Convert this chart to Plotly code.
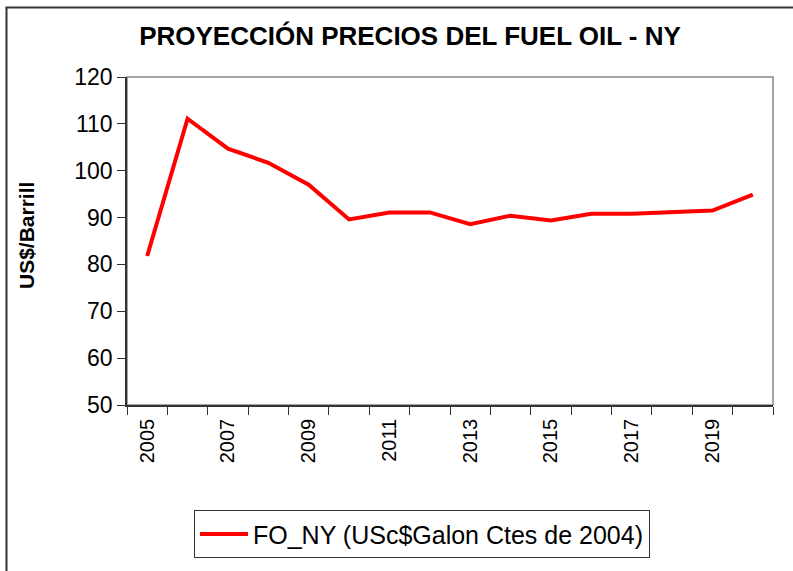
import plotly.graph_objects as go

years = [2005, 2006, 2007, 2008, 2009, 2010, 2011, 2012, 2013, 2014, 2015, 2016, 2017, 2018, 2019, 2020]
fo_ny = [81.8, 111.1, 104.7, 101.7, 97.0, 89.6, 91.1, 91.1, 88.6, 90.4, 89.4, 90.8, 90.8, 91.1, 91.5, 94.9]
label_years = [2005, 2007, 2009, 2011, 2013, 2015, 2017, 2019]
series_name = "FO_NY (USc$Galon Ctes de 2004)"
title_text = "PROYECCIÓN PRECIOS DEL FUEL OIL - NY"
y_title = "US$/Barrill"

W, H = 793, 571
L, R, T, B = 127, 773, 77, 407
pw, ph = R - L, B - T

def px(x):
    return (x - L) / pw

def py(y):
    return (B - y) / ph

fig = go.Figure()
fig.add_trace(go.Scatter(
    x=years, y=fo_ny, mode="lines", name=series_name,
    line=dict(color="#FF0000", width=4),
))

font = "Liberation Sans, Arial, sans-serif"
fig.update_layout(
    width=W, height=H, autosize=False,
    margin=dict(l=L, r=W - R, t=T, b=H - B, pad=0),
    paper_bgcolor="white", plot_bgcolor="white",
    font=dict(family=font, color="black"),
    title=dict(text="<b>" + title_text + "</b>", x=410 / W, xanchor="center",
               y=1 - 36 / H, yanchor="middle", yref="container",
               font=dict(size=26, family=font, color="black")),
    showlegend=True,
    legend=dict(x=px(194), y=py(513), xanchor="left", yanchor="top",
                bordercolor="#333333", borderwidth=1, bgcolor="white",
                itemwidth=48,
                font=dict(size=25, family=font, color="black")),
    xaxis=dict(
        range=[2004.5, 2020.5], tickmode="array", tickvals=label_years,
        ticktext=[str(v) for v in label_years], tickangle=-90,
        ticks="outside", ticklen=4, tickcolor="rgba(0,0,0,0)",
        tickfont=dict(size=20, family=font, color="black"),
        showgrid=False, zeroline=False, showline=True, linecolor="#333333", linewidth=1.5,
        minor=dict(tick0=2004.5, dtick=1, ticks="outside", ticklen=8, tickcolor="#333333", tickwidth=1, showgrid=False),
    ),
    yaxis=dict(
        range=[50, 120], tick0=50, dtick=10, ticks="outside", ticklen=8,
        tickcolor="#333333", tickwidth=1,
        tickfont=dict(size=23, family=font, color="black"),
        showgrid=False, zeroline=False, showline=True, linecolor="#333333", linewidth=1.5,
    ),
    shapes=[
        dict(type="rect", xref="paper", yref="paper", x0=0, x1=1, y0=0, y1=1,
             line=dict(color="#888888", width=1.5), layer="below"),
        dict(type="rect", xref="paper", yref="paper", x0=px(6.5), x1=px(805),
             y0=py(585), y1=py(7), line=dict(color="#333333", width=2), layer="below"),
    ],
    annotations=[
        dict(text="<b>" + y_title + "</b>", xref="paper", yref="paper",
             x=px(26), y=py(237), textangle=-90, showarrow=False,
             xanchor="center", yanchor="middle",
             font=dict(size=21, family=font, color="black")),
    ],
)

fig.write_html("out.html", config={"displayModeBar": False},
               post_script="document.body.style.margin='0';")
